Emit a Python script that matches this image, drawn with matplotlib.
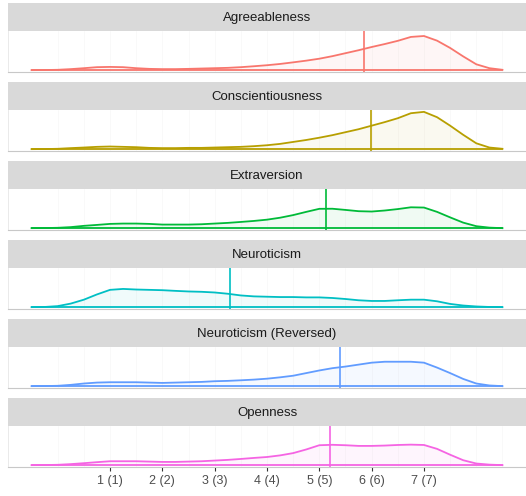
import matplotlib.pyplot as plt
import numpy as np

# Density estimates of each trait score on a common grid (-0.5 .. 8.5, step 0.25)
grid = np.arange(-0.5, 8.51, 0.25)

traits = ['Agreeableness', 'Conscientiousness', 'Extraversion',
          'Neuroticism', 'Neuroticism (Reversed)', 'Openness']

agreeableness = [0, .001, .004, .012, .023, .035, .038, .035, .023, .015,
                 .012, .012, .015, .019, .023, .027, .035, .046, .058, .073,
                 .092, .112, .135, .165, .200, .235, .273, .308, .346, .392,
                 .403, .348, .262, .162, .069, .023, .004]
conscientiousness = [0, .001, .004, .012, .019, .027, .031, .027, .023, .015,
                     .012, .012, .015, .015, .019, .023, .027, .035, .046, .062,
                     .085, .108, .135, .165, .200, .235, .277, .319, .365, .424,
                     .440, .377, .277, .169, .069, .019, .004]
extraversion = [0, .001, .004, .012, .027, .038, .050, .054, .054, .050,
                .042, .042, .042, .046, .054, .062, .073, .085, .100, .123,
                .154, .192, .228, .229, .215, .200, .196, .208, .225, .246,
                .243, .192, .127, .065, .023, .006, 0]
neuroticism = [0, .002, .012, .042, .088, .150, .204, .215, .208, .204,
               .200, .192, .185, .181, .173, .158, .138, .127, .123, .119,
               .119, .115, .115, .108, .096, .081, .073, .073, .081, .088,
               .088, .069, .038, .019, .008, .002, 0]
neuroticism_rev = [0, .001, .004, .015, .031, .042, .046, .046, .046, .042,
                   .038, .042, .046, .050, .058, .062, .069, .077, .088, .104,
                   .123, .154, .185, .212, .231, .254, .277, .288, .288, .288,
                   .277, .219, .154, .085, .031, .008, 0]
openness = [0, .001, .004, .012, .023, .035, .046, .046, .046, .042,
            .038, .038, .042, .046, .054, .062, .073, .085, .096, .115,
            .142, .185, .235, .240, .235, .227, .227, .231, .238, .242,
            .238, .192, .123, .058, .019, .006, 0]

densities = [agreeableness, conscientiousness, extraversion,
             neuroticism, neuroticism_rev, openness]

# Mean score of each trait
means = [5.85, 5.99, 5.12, 3.29, 5.40, 5.20]

tick_pos = [1, 2, 3, 4, 5, 6, 7]
tick_labels = ['1 (1)', '2 (2)', '3 (3)', '4 (4)', '5 (5)', '6 (6)', '7 (7)']

colors = ['#F8766D', '#B79F00', '#00BA38', '#00BFC4', '#619CFF', '#F564E3']

plt.rcParams['font.family'] = ['Liberation Sans', 'DejaVu Sans']

W, H = 526, 496
fig = plt.figure(figsize=(W / 100, H / 100), dpi=100)

ymax = max(max(d) for d in densities)
xlo, xhi = grid[0], grid[-1]
pad = 0.05 * (xhi - xlo)

left, right = 8, 526
for i, (name, dens, m, col) in enumerate(zip(traits, densities, means, colors)):
    strip_top = 3 + 79 * i
    panel_top = 31 + 79 * i
    panel_bot = 72 + 79 * i

    # facet strip
    sax = fig.add_axes([left / W, 1 - panel_top / H, (right - left) / W,
                        (panel_top - strip_top) / H])
    sax.set_facecolor('#D9D9D9')
    sax.set_xticks([])
    sax.set_yticks([])
    for s in sax.spines.values():
        s.set_visible(False)
    sax.text(0.5, 0.45, name, ha='center', va='center', fontsize=9.5,
             color='#1A1A1A', transform=sax.transAxes)

    ax = fig.add_axes([left / W, 1 - panel_bot / H, (right - left) / W,
                       (panel_bot - panel_top) / H])
    ax.set_xlim(xlo - pad, xhi + pad)
    ax.set_ylim(-0.05 * ymax, 1.05 * ymax)
    ax.set_facecolor('white')

    # very faint vertical grid
    for gx in np.arange(0, 9, 0.5):
        ax.axvline(gx, color='#F7F7F7', lw=0.5, zorder=0)

    ax.fill_between(grid, 0, dens, color=col, alpha=0.06, lw=0, zorder=1)
    ax.plot(grid, dens, color=col, lw=1.3, zorder=2, solid_joinstyle='round')
    ax.plot([xlo, xhi], [0, 0], color=col, lw=1.3, zorder=2)
    ax.axvline(m, color=col, lw=1.2, zorder=3)

    for s in ['top', 'right']:
        ax.spines[s].set_visible(False)
    ax.spines['left'].set_color('#E6E6E6')
    ax.spines['left'].set_linewidth(0.6)
    ax.spines['bottom'].set_color('#C8C8C8')
    ax.spines['bottom'].set_linewidth(0.8)
    ax.set_yticks([])
    ax.set_xticks(tick_pos)
    if i == len(traits) - 1:
        ax.set_xticklabels(tick_labels, fontsize=9, color='#4D4D4D')
        ax.tick_params(axis='x', length=3, width=0.8, color='#333333', pad=3)
    else:
        ax.set_xticklabels([])
        ax.tick_params(axis='x', length=0)

fig.savefig('out.png', dpi=100)
plt.close(fig)
